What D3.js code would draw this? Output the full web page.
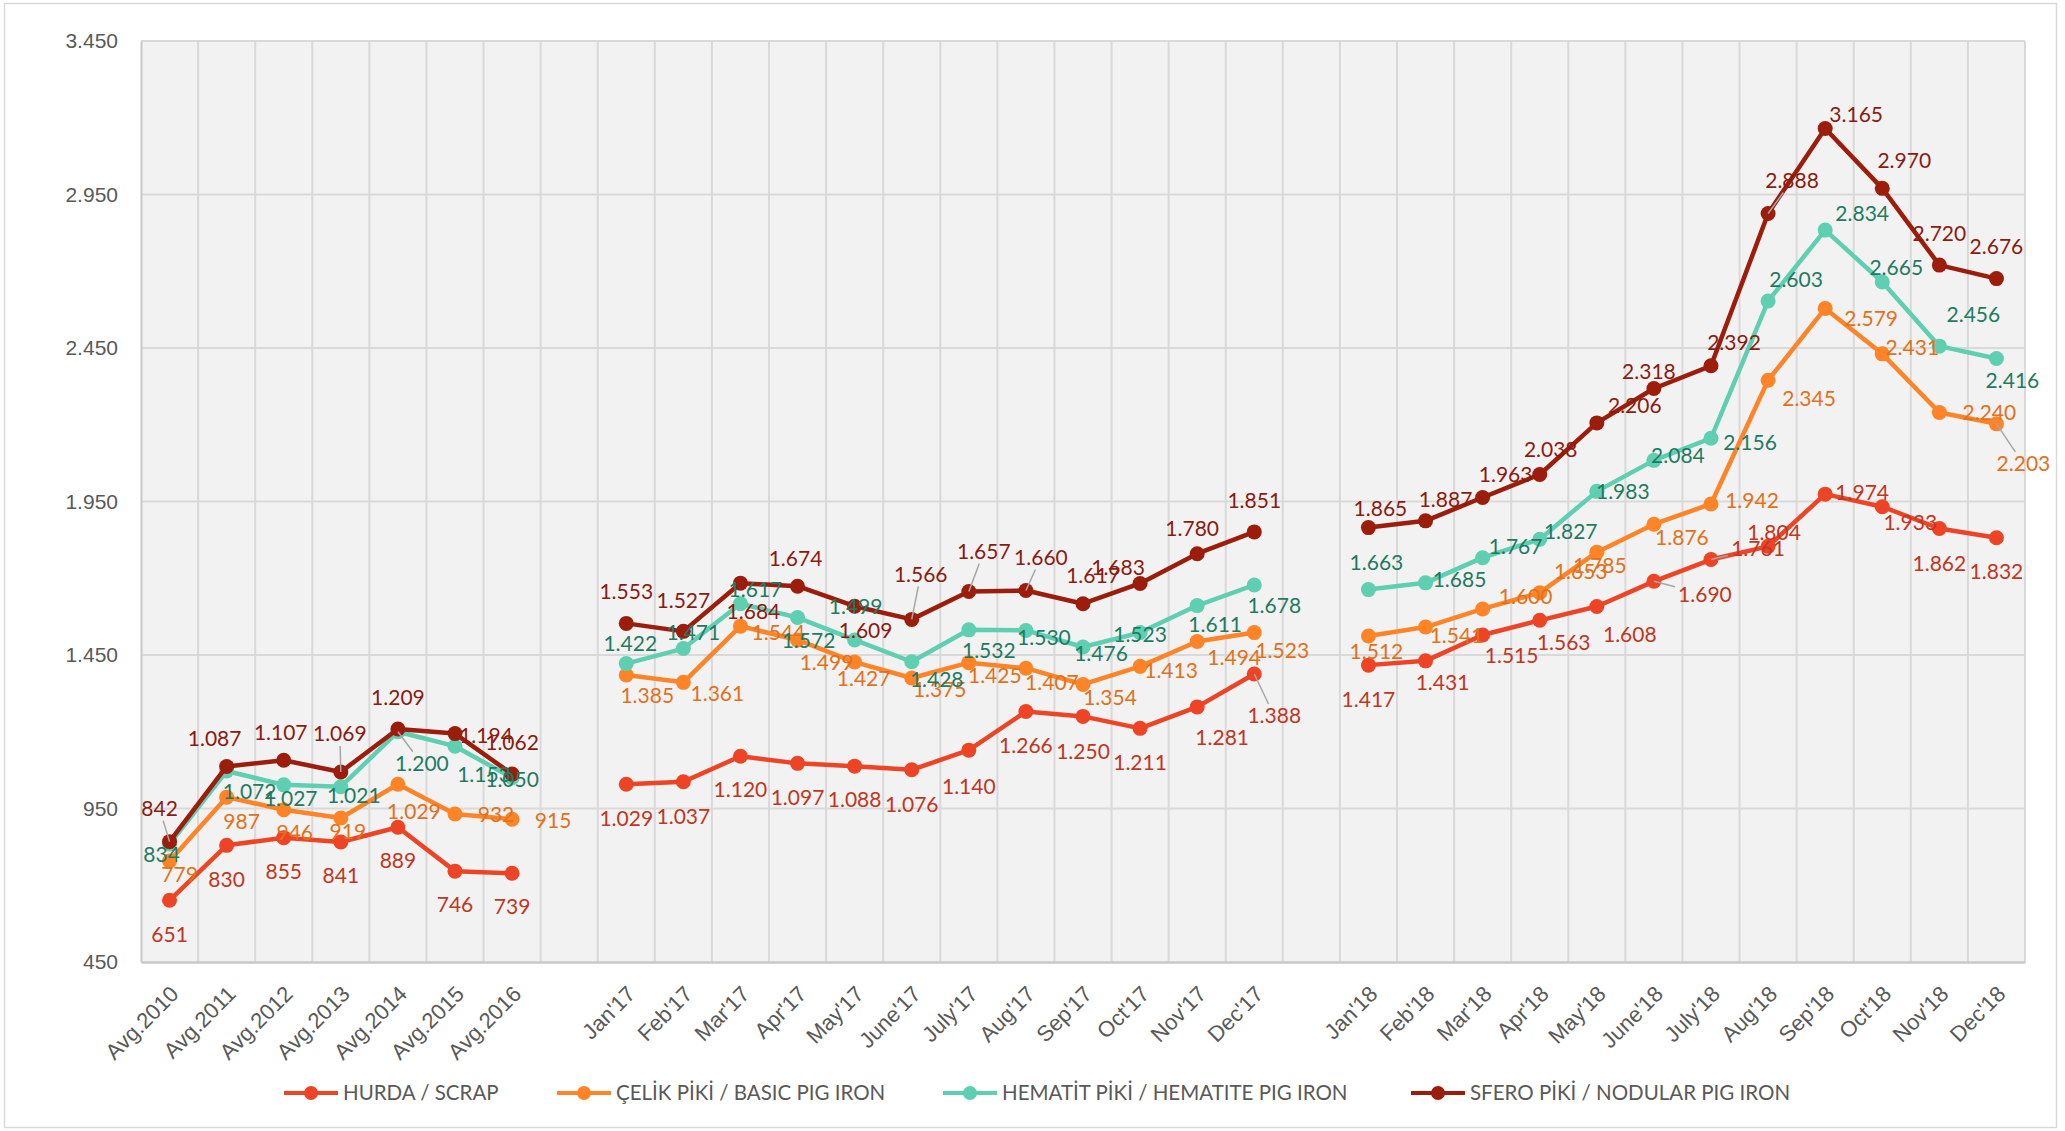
<!DOCTYPE html>
<html>
<head>
<meta charset="utf-8">
<script src="https://d3js.org/d3.v7.min.js"></script>
<style>
  body { margin: 0; background: #fff; }
  svg { font-family: Lato, "Open Sans", sans-serif; }
  .tick text { fill: #595959; }
</style>
</head>
<body>
<svg id="chart" width="2065" height="1131"></svg>
<script>
// categories ("" = empty gap column)
const categories = ["Avg.2010","Avg.2011","Avg.2012","Avg.2013","Avg.2014","Avg.2015","Avg.2016","",
  "Jan'17","Feb'17","Mar'17","Apr'17","May'17","June'17","July'17","Aug'17","Sep'17","Oct'17","Nov'17","Dec'17","",
  "Jan'18","Feb'18","Mar'18","Apr'18","May'18","June'18","July'18","Aug'18","Sep'18","Oct'18","Nov'18","Dec'18"];

const scrap   = [651,830,855,841,889,746,739,null,
  1029,1037,1120,1097,1088,1076,1140,1266,1250,1211,1281,1388,null,
  1417,1431,1515,1563,1608,1690,1761,1804,1974,1933,1862,1832];
const celik   = [779,987,946,919,1029,932,915,null,
  1385,1361,1544,1499,1427,1375,1425,1407,1354,1413,1494,1523,null,
  1512,1541,1600,1653,1785,1876,1942,2345,2579,2431,2240,2203];
const hematit = [834,1072,1027,1021,1200,1153,1050,null,
  1422,1471,1617,1572,1499,1428,1532,1530,1476,1523,1611,1678,null,
  1663,1685,1767,1827,1983,2084,2156,2603,2834,2665,2456,2416];
const sfero   = [842,1087,1107,1069,1209,1194,1062,null,
  1553,1527,1684,1674,1609,1566,1657,1660,1617,1683,1780,1851,null,
  1865,1887,1963,2038,2206,2318,2392,2888,3165,2970,2720,2676];

const seriesNames = ["HURDA / SCRAP", "ÇELİK PİKİ / BASIC PIG IRON", "HEMATİT PİKİ / HEMATITE PIG IRON", "SFERO PİKİ / NODULAR PIG IRON"];
const yTicks = [450, 950, 1450, 1950, 2450, 2950, 3450];

// label nudges (px, relative to the point) — hand placed like the original
const nudge = {
  scrap: [[0,34],[0,34],[0,34],[0,34],[0,33],[0,34],[0,33],null,
    [0,34],[0,35],[0,33],[0,34],[0,34],[0,35],[0,36],[0,34],[0,35],[0,34],[25,31],[20,42],null,
    [0,35],[17,22],[29,21],[24,22],[33,28],[51,13],[47,-11],[6,-14],[37,-1],[28,16],[0,35],[0,34]],
  celik: [[10,14],[15,25],[11,23],[7,14],[16,27],[41,1],[41,1],null,
    [21,21],[34,11],[38,7],[29,23],[9,17],[28,12],[26,13],[26,14],[27,13],[31,4],[37,16],[28,18],null,
    [8,16],[31,9],[43,-12],[41,-21],[3,13],[28,13],[41,-3],[41,18],[46,10],[30,-6],[50,0],[27,40]],
  hematit: [[-8,11],[23,21],[7,14],[13,9],[24,32],[29,28],[0,2],null,
    [4,-20],[10,-16],[15,-14],[11,23],[1,-33],[25,18],[20,21],[18,7],[18,7],[0,2],[18,19],[20,21],null,
    [8,-27],[34,-3],[33,-11],[31,-8],[26,0],[24,-5],[39,4],[28,-21],[37,-16],[14,-14],[34,-32],[16,22]],
  sfero: [[-10,-33],[-12,-28],[-3,-28],[-1,-38],[0,-31],[31,2],[0,-31],null,
    [0,-32],[0,-31],[13,28],[-2,-28],[11,24],[9,-45],[15,-40],[15,-33],[10,-28],[-22,-16],[-5,-25],[0,-31],null,
    [12,-19],[20,-21],[23,-23],[11,-25],[38,-17],[-5,-17],[23,-23],[24,-33],[31,-14],[22,-28],[0,-31],[0,-32]]
};
const leaders = ["scrap:19","scrap:26","scrap:27","celik:32","hematit:4","sfero:0","sfero:3","sfero:13","sfero:14","sfero:15","sfero:28"];

const series = [
  {key: "scrap",   name: seriesNames[0], values: scrap,   line: "#EE4426", label: "#C0361F"},
  {key: "celik",   name: seriesNames[1], values: celik,   line: "#FF8427", label: "#E2711A"},
  {key: "hematit", name: seriesNames[2], values: hematit, line: "#5ECFB1", label: "#1E7B62"},
  {key: "sfero",   name: seriesNames[3], values: sfero,   line: "#9C1D0C", label: "#8A1B10"}
];

const trLocale = d3.formatLocale({decimal: ",", thousands: ".", grouping: [3], currency: ["", ""]});
const fmt = trLocale.format(",d");

const svg = d3.select("#chart");
const plotL = 141, plotR = 2025, plotT = 41, plotB = 962;

svg.append("rect").attr("x", 4.5).attr("y", 3.5).attr("width", 2052).attr("height", 1124)
  .attr("fill", "#fff").attr("stroke", "#D9D9D9").attr("stroke-width", 1.5);

const x = d3.scaleBand().domain(d3.range(categories.length)).range([plotL, plotR]);
const cx = i => x(i) + x.bandwidth() / 2;
const y = d3.scaleLinear().domain([450, 3450]).range([plotB, plotT]);

// plot background + grid
svg.append("rect").attr("x", plotL).attr("y", plotT).attr("width", plotR - plotL).attr("height", plotB - plotT).attr("fill", "#F2F2F2");

const grid = svg.append("g").attr("stroke", "#D9D9D9").attr("stroke-width", 2);
grid.selectAll("line.h").data(yTicks.slice(1)).enter().append("line")
  .attr("x1", plotL).attr("x2", plotR).attr("y1", d => y(d)).attr("y2", d => y(d));
grid.selectAll("line.v").data(d3.range(1, categories.length + 1)).enter().append("line")
  .attr("x1", d => plotL + d * x.bandwidth()).attr("x2", d => plotL + d * x.bandwidth())
  .attr("y1", plotT).attr("y2", plotB);

// axes
const yAxis = svg.append("g").attr("transform", "translate(" + plotL + ",0)")
  .call(d3.axisLeft(y).tickValues(yTicks).tickFormat(fmt).tickSize(0).tickPadding(23));
yAxis.select(".domain").attr("stroke", "#C8C8C8").attr("stroke-width", 2);
yAxis.selectAll("text").style("font-size", "21px");

const xAxis = svg.append("g").attr("transform", "translate(0," + plotB + ")")
  .call(d3.axisBottom(x).tickFormat(i => categories[i]).tickSize(0));
xAxis.select(".domain").attr("stroke", "#C8C8C8").attr("stroke-width", 2.5);
xAxis.selectAll("text")
  .style("font-size", "22px")
  .attr("text-anchor", "end")
  .attr("y", 0).attr("dy", "0.35em")
  .attr("transform", "translate(5,28) rotate(-45)");

// lines and markers
const line = d3.line().defined(d => d != null).x((d, i) => cx(i)).y(d => y(d));
series.forEach(s => {
  const g = svg.append("g");
  g.append("path").datum(s.values).attr("d", line)
    .attr("fill", "none").attr("stroke", s.line).attr("stroke-width", 4.5).attr("stroke-linejoin", "round");
  g.selectAll("circle").data(s.values.map((v, i) => ({v, i})).filter(d => d.v != null)).enter()
    .append("circle").attr("cx", d => cx(d.i)).attr("cy", d => y(d.v)).attr("r", 7.5).attr("fill", s.line);
});

// data labels (+ leader lines)
series.forEach(s => {
  const pts = s.values.map((v, i) => ({v, i, n: nudge[s.key][i]})).filter(d => d.v != null);
  pts.filter(d => leaders.includes(s.key + ":" + d.i)).forEach(d => {
    const dx = d.n[0], dy = d.n[1];
    const t = Math.min(30 / Math.max(Math.abs(dx), 0.01), 12 / Math.max(Math.abs(dy), 0.01));
    const k = Math.max(0, 1 - t);
    svg.append("line").attr("x1", cx(d.i)).attr("y1", y(d.v))
      .attr("x2", cx(d.i) + dx * k).attr("y2", y(d.v) + dy * k)
      .attr("stroke", "#A6A6A6").attr("stroke-width", 1.5);
  });
  svg.append("g").selectAll("text").data(pts).enter().append("text")
    .attr("x", d => cx(d.i) + d.n[0]).attr("y", d => y(d.v) + d.n[1])
    .attr("text-anchor", "middle").attr("dy", "0.35em")
    .style("font-size", "21px").attr("fill", s.label)
    .text(d => fmt(d.v));
});

// legend
const legendX = [284, 557, 943, 1411];
const lg = svg.append("g").attr("transform", "translate(0,1093)");
series.forEach((s, k) => {
  const g = lg.append("g").attr("transform", "translate(" + legendX[k] + ",0)");
  g.append("line").attr("x1", 0).attr("x2", 54).attr("stroke", s.line).attr("stroke-width", 4);
  g.append("circle").attr("cx", 27).attr("r", 7).attr("fill", s.line);
  g.append("text").attr("x", 59).attr("dy", "0.35em").style("font-size", "20.5px").attr("fill", "#595959").text(s.name);
});
</script>
</body>
</html>
